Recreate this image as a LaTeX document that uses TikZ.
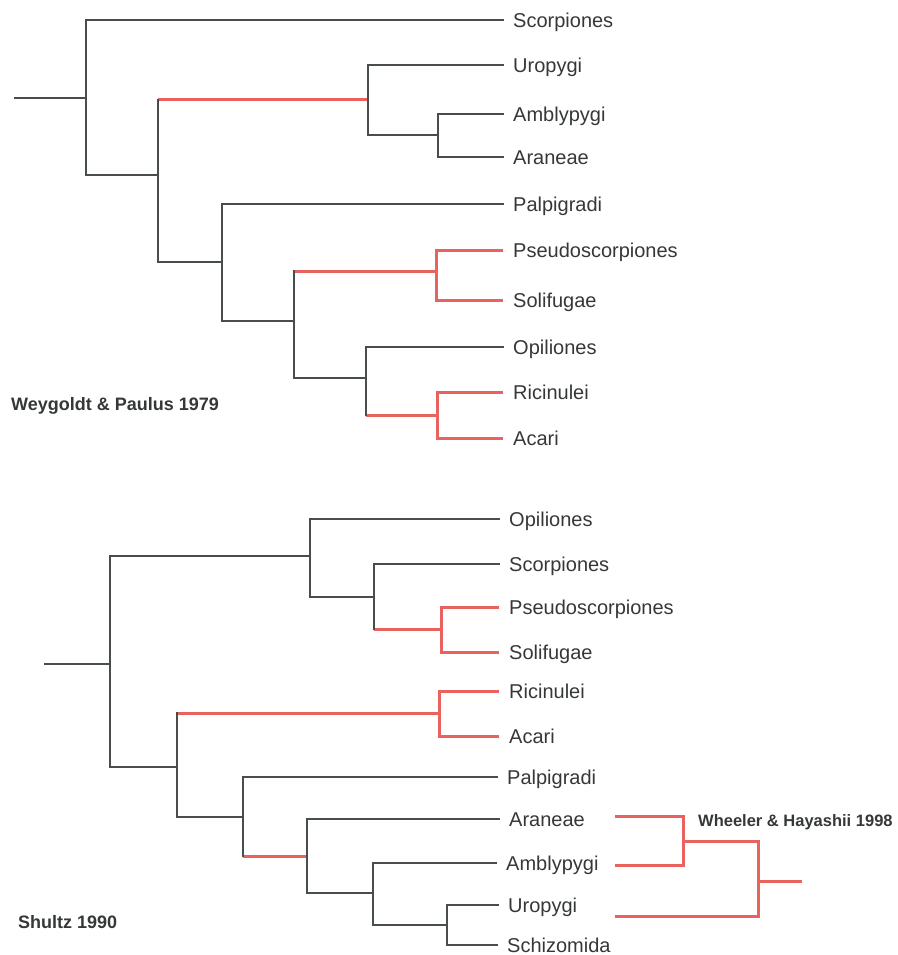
\documentclass[tikz,border=0pt]{standalone}
\usepackage{fontspec}
\setmainfont{Liberation Sans}
\definecolor{linegray}{RGB}{72,78,75}
\definecolor{linered}{RGB}{234,98,94}
\definecolor{txtgray}{RGB}{52,56,54}
\newcommand{\labfont}{\fontsize{20}{22}\selectfont}
\newcommand{\capfont}{\fontsize{18}{20}\selectfont\bfseries}
\newcommand{\capsmall}{\fontsize{16.5}{18}\selectfont\bfseries}
\begin{document}
\begin{tikzpicture}[x=1pt,y=-1pt,
  br/.style={draw=linegray, line width=1.6pt, line cap=rect, line join=miter},
  rd/.style={draw=linered, line width=3pt, line cap=butt, line join=miter},
  rdv/.style={draw=linered, line width=2.4pt, line cap=butt},
  leaf/.style={anchor=west, inner xsep=10pt, inner ysep=0pt, text height=14.3pt, text depth=0pt, font=\labfont, text=txtgray},
  caption/.style={anchor=base west, inner sep=0pt, text=txtgray}]
\useasboundingbox (0,0) rectangle (897,955);

% ---------------- top tree: Weygoldt & Paulus 1979 ----------------
\node[leaf] (tScor) at (503,20)  {Scorpiones};
\node[leaf] (tUro)  at (503,65)  {Uropygi};
\node[leaf] (tAmb)  at (503,114) {Amblypygi};
\node[leaf] (tAra)  at (503,157) {Araneae};
\node[leaf] (tPal)  at (503,204) {Palpigradi};
\node[leaf] (tPse)  at (503,250) {Pseudoscorpiones};
\node[leaf] (tSol)  at (503,300) {Solifugae};
\node[leaf] (tOpi)  at (503,347) {Opiliones};
\node[leaf] (tRic)  at (503,392) {Ricinulei};
\node[leaf] (tAca)  at (503,438) {Acari};

\coordinate (tR) at (15,98);
\coordinate (tA) at (86,98);
\coordinate (tB) at (158,175);
\coordinate (tC) at (368,100);
\coordinate (tD) at (438,135);
\coordinate (tE) at (222,262);
\coordinate (tF) at (294,321);
\coordinate (tG) at (436,271);
\coordinate (tH) at (366,378);
\coordinate (tI) at (437,415);

% red parts
\draw[rd] (tB |- tC) -- (tC);
\draw[rd] (tF |- tG) -- (tG);
\draw[rd] (tPse.west) -| (tG |- tSol.west) -- (tSol.west);
\draw[rd] (tH |- tI) -- (tI);
\draw[rd] (tRic.west) -| (tI |- tAca.west) -- (tAca.west);
% black parts
\draw[br] (tR) -- (tA);
\draw[br] (tScor.west) -| (tA |- tB) -- (tB);
\draw[br] (tB |- tC) -- (tB |- tE) -- (tE);
\draw[br] (tUro.west) -| (tC |- tD) -- (tD);
\draw[br] (tAmb.west) -| (tD |- tAra.west) -- (tAra.west);
\draw[br] (tPal.west) -| (tE |- tF) -- (tF);
\draw[br] (tF |- tG) -- (tF |- tH) -- (tH);
\draw[br] (tOpi.west) -| (tH |- tI);

\node[caption, font=\capfont] (tCap) at (11,410.5) {Weygoldt \& Paulus 1979};

% ---------------- bottom tree: Shultz 1990 ----------------
\node[leaf] (bOpi)  at (499,519) {Opiliones};
\node[leaf] (bScor) at (499,564) {Scorpiones};
\node[leaf] (bPse)  at (499,607) {Pseudoscorpiones};
\node[leaf] (bSol)  at (499,652) {Solifugae};
\node[leaf] (bRic)  at (499,691) {Ricinulei};
\node[leaf] (bAca)  at (499,736) {Acari};
\node[leaf] (bPal)  at (497,777) {Palpigradi};
\node[leaf] (bAra)  at (499,819) {Araneae};
\node[leaf] (bAmb)  at (496,863) {Amblypygi};
\node[leaf] (bUro)  at (498,905) {Uropygi};
\node[leaf] (bSch)  at (497,945) {Schizomida};

\coordinate (bR)  at (45,664);
\coordinate (bA)  at (110,664);
\coordinate (bB)  at (310,556);
\coordinate (bC)  at (374,597);
\coordinate (bD)  at (441,629);
\coordinate (bE)  at (177,767);
\coordinate (bF)  at (439,713);
\coordinate (bG)  at (243,817);
\coordinate (bH)  at (307,856);
\coordinate (bI)  at (373,893);
\coordinate (bJ)  at (447,925);

% red parts
\draw[rd] (bC |- bD) -- (bD);
\draw[rd] (bPse.west) -| (bD |- bSol.west) -- (bSol.west);
\draw[rd] (bE |- bF) -- (bF);
\draw[rd] (bRic.west) -| (bF |- bAca.west) -- (bAca.west);
\draw[rd] (bG |- bH) -- (bH);
% black parts
\draw[br] (bR) -- (bA);
\draw[br] (bA |- bB) -- (bA |- bE) -- (bE);
\draw[br] (bA |- bB) -- (bB);
\draw[br] (bOpi.west) -| (bB |- bC) -- (bC);
\draw[br] (bScor.west) -| (bC |- bD);
\draw[br] (bE |- bF) -- (bE |- bG) -- (bG);
\draw[br] (bPal.west) -| (bG |- bH);
\draw[br] (bAra.west) -| (bH |- bI) -- (bI);
\draw[br] (bAmb.west) -| (bI |- bJ) -- (bJ);
\draw[br] (bUro.west) -| (bJ |- bSch.west) -- (bSch.west);

\node[caption, font=\capfont] (bCap) at (18,928.5) {Shultz 1990};

% ---------------- Wheeler & Hayashii 1998 ----------------
\coordinate (wAra) at (615,816);
\coordinate (wAmb) at (615,865);
\coordinate (wUro) at (615,916);
\coordinate (wJ1)  at (683,841);
\coordinate (wJ2)  at (758,881);
\coordinate (wRt)  at (802,881);
\draw[rd] (wAra) -| (wJ1 |- wAmb) -- (wAmb);
\draw[rd] (wJ1) -| (wJ2 |- wUro) -- (wUro);
\draw[rd] (wJ2) -- (wRt);
\node[caption, font=\capsmall] (wCap) at (698,826) {Wheeler \& Hayashii 1998};
\end{tikzpicture}
\end{document}
